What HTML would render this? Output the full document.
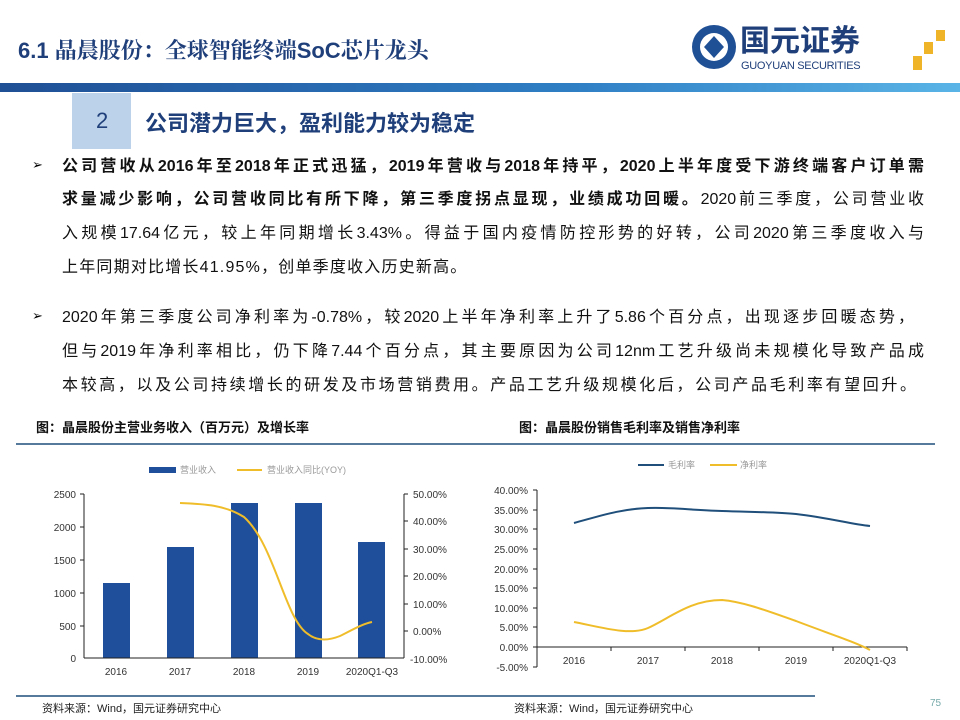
<!DOCTYPE html>
<html><head><meta charset="utf-8"><style>
body{margin:0;width:960px;height:720px;background:#fff;position:relative;overflow:hidden;font-family:"Liberation Sans","Noto Sans CJK SC",sans-serif}
.l{position:absolute;left:62px;width:862px;font-size:16px;color:#111;white-space:nowrap;line-height:20px;text-align:justify;text-align-last:justify;text-justify:inter-character}
.n{text-align-last:left}
.b{position:absolute;left:32px;font-size:13px}
</style></head><body>
<div style="position:absolute;left:18px;top:34px;font-size:22px;font-weight:bold;color:#1f3f7a;font-family:'Liberation Sans','Noto Serif CJK SC',serif">6.1 晶晨股份：全球智能终端SoC芯片龙头</div>
<svg style="position:absolute;left:0;top:0" width="960" height="160">
<defs><linearGradient id="g" x1="0" x2="1"><stop offset="0" stop-color="#1f4f95"/><stop offset="0.6" stop-color="#2f7fc5"/><stop offset="1" stop-color="#5ab4e6"/></linearGradient></defs>
<rect x="0" y="83" width="960" height="9" fill="url(#g)"/>
<rect x="72" y="93" width="59" height="56" fill="#bcd2ea"/>
<circle cx="714" cy="47" r="22" fill="#1f4f95"/><circle cx="714" cy="47" r="14" fill="#fff"/><path d="M714 36 L724 47 L714 58 L704 47Z" fill="#1f4f95"/>
<rect x="936" y="30" width="9" height="11" fill="#f0b429"/><rect x="924" y="42" width="9" height="12" fill="#f0b429"/><rect x="913" y="56" width="9" height="14" fill="#f0b429"/>
</svg>
<div style="position:absolute;left:740px;top:24px;font-size:30px;line-height:36px;font-weight:bold;color:#1f3f7a">国元证券</div>
<div style="position:absolute;left:741px;top:60px;font-size:11px;line-height:12px;color:#1f3f7a;letter-spacing:-0.3px">GUOYUAN SECURITIES</div>
<div style="position:absolute;left:96px;top:108px;font-size:22px;color:#1f3f7a">2</div>
<div style="position:absolute;left:145px;top:106px;font-size:22px;font-weight:bold;color:#1f3f7a">公司潜力巨大，盈利能力较为稳定</div>
<div class="b" style="top:157px">➢</div>
<div class="l" style="top:157px;font-weight:bold">公司营收从2016年至2018年正式迅猛，2019年营收与2018年持平，2020上半年度受下游终端客户订单需</div>
<div class="l" style="top:190px"><b>求量减少影响，公司营收同比有所下降，第三季度拐点显现，业绩成功回暖。</b>2020前三季度，公司营业收</div>
<div class="l" style="top:224px">入规模17.64亿元，较上年同期增长3.43%。得益于国内疫情防控形势的好转，公司2020第三季度收入与</div>
<div class="l n" style="top:258px;letter-spacing:1.2px">上年同期对比增长41.95%，创单季度收入历史新高。</div>
<div class="b" style="top:308px">➢</div>
<div class="l" style="top:308px;width:852px">2020年第三季度公司净利率为-0.78%，较2020上半年净利率上升了5.86个百分点，出现逐步回暖态势，</div>
<div class="l" style="top:342px">但与2019年净利率相比，仍下降7.44个百分点，其主要原因为公司12nm工艺升级尚未规模化导致产品成</div>
<div class="l" style="top:376px;width:854px">本较高，以及公司持续增长的研发及市场营销费用。产品工艺升级规模化后，公司产品毛利率有望回升。</div>
<svg style="position:absolute;left:0;top:410px" width="960" height="310" font-family="Liberation Sans,Noto Sans CJK SC,sans-serif">
<g transform="translate(0,-410)">
<text x="36" y="432" font-size="13" font-weight="bold" fill="#111">图：晶晨股份主营业务收入（百万元）及增长率</text>
<text x="519" y="432" font-size="13" font-weight="bold" fill="#111">图：晶晨股份销售毛利率及销售净利率</text>
<line x1="16" y1="444" x2="480" y2="444" stroke="#1f4f7a" stroke-width="1.5"/>
<line x1="480" y1="444" x2="935" y2="444" stroke="#1f4f7a" stroke-width="1.5"/>
<line x1="16" y1="696" x2="480" y2="696" stroke="#1f4f7a" stroke-width="1.5"/>
<line x1="480" y1="696" x2="815" y2="696" stroke="#1f4f7a" stroke-width="1.5"/>
<text x="42" y="712" font-size="11" fill="#222">资料来源：Wind，国元证券研究中心</text>
<text x="514" y="712" font-size="11" fill="#222">资料来源：Wind，国元证券研究中心</text>
<text x="930" y="706" font-size="10" fill="#7aa">75</text>
<rect x="149" y="467" width="27" height="6" fill="#1f4f9a"/><text x="180" y="473" font-size="9" fill="#999">营业收入</text>
<line x1="237" y1="470" x2="262" y2="470" stroke="#f0bd2a" stroke-width="2"/><text x="267" y="473" font-size="9" fill="#999">营业收入同比(YOY)</text>
<g fill="#1f4f9a"><rect x="103" y="583" width="27" height="75"/><rect x="167" y="547" width="27" height="111"/><rect x="231" y="503" width="27" height="155"/><rect x="295" y="503" width="27" height="155"/><rect x="358" y="542" width="27" height="116"/></g>
<g stroke="#222" stroke-width="1"><line x1="84" y1="494" x2="84" y2="658"/><line x1="84" y1="658" x2="404" y2="658"/><line x1="404" y1="494" x2="404" y2="658"/></g>
<g stroke="#222"><line x1="80" y1="494" x2="84" y2="494"/><line x1="80" y1="527" x2="84" y2="527"/><line x1="80" y1="560" x2="84" y2="560"/><line x1="80" y1="593" x2="84" y2="593"/><line x1="80" y1="626" x2="84" y2="626"/><line x1="404" y1="494" x2="408" y2="494"/><line x1="404" y1="521" x2="408" y2="521"/><line x1="404" y1="549" x2="408" y2="549"/><line x1="404" y1="576" x2="408" y2="576"/><line x1="404" y1="604" x2="408" y2="604"/><line x1="404" y1="631" x2="408" y2="631"/></g>
<g font-size="10" fill="#333" text-anchor="end"><text x="76" y="498">2500</text><text x="76" y="531">2000</text><text x="76" y="564">1500</text><text x="76" y="597">1000</text><text x="76" y="630">500</text><text x="76" y="662">0</text></g>
<g font-size="10" fill="#333"><text x="413" y="498">50.00%</text><text x="413" y="525">40.00%</text><text x="413" y="553">30.00%</text><text x="413" y="580">20.00%</text><text x="413" y="608">10.00%</text><text x="413" y="635">0.00%</text><text x="410" y="663">-10.00%</text></g>
<g font-size="10" fill="#333" text-anchor="middle"><text x="116" y="675">2016</text><text x="180" y="675">2017</text><text x="244" y="675">2018</text><text x="308" y="675">2019</text><text x="372" y="675">2020Q1-Q3</text></g>
<path d="M180 503 C205 504 225 505 244 517 C275 545 285 620 308 634 C318 642 330 640 340 636 C352 630 362 624 372 622" fill="none" stroke="#f0bd2a" stroke-width="2"/>
<line x1="638" y1="465" x2="664" y2="465" stroke="#1f4f7a" stroke-width="2"/><text x="668" y="468" font-size="9" fill="#999">毛利率</text>
<line x1="710" y1="465" x2="737" y2="465" stroke="#f0bd2a" stroke-width="2"/><text x="740" y="468" font-size="9" fill="#999">净利率</text>
<g stroke="#222"><line x1="537" y1="490" x2="537" y2="667"/><line x1="537" y1="647" x2="907" y2="647"/>
<line x1="533" y1="490" x2="537" y2="490"/><line x1="533" y1="510" x2="537" y2="510"/><line x1="533" y1="529" x2="537" y2="529"/><line x1="533" y1="549" x2="537" y2="549"/><line x1="533" y1="569" x2="537" y2="569"/><line x1="533" y1="588" x2="537" y2="588"/><line x1="533" y1="608" x2="537" y2="608"/><line x1="533" y1="627" x2="537" y2="627"/><line x1="533" y1="647" x2="537" y2="647"/><line x1="533" y1="667" x2="537" y2="667"/>
<line x1="611" y1="647" x2="611" y2="651"/><line x1="685" y1="647" x2="685" y2="651"/><line x1="759" y1="647" x2="759" y2="651"/><line x1="833" y1="647" x2="833" y2="651"/><line x1="907" y1="647" x2="907" y2="651"/></g>
<g font-size="10" fill="#333" text-anchor="end"><text x="528" y="494">40.00%</text><text x="528" y="514">35.00%</text><text x="528" y="533">30.00%</text><text x="528" y="553">25.00%</text><text x="528" y="573">20.00%</text><text x="528" y="592">15.00%</text><text x="528" y="612">10.00%</text><text x="528" y="631">5.00%</text><text x="528" y="651">0.00%</text><text x="528" y="671">-5.00%</text></g>
<g font-size="10" fill="#333" text-anchor="middle"><text x="574" y="664">2016</text><text x="648" y="664">2017</text><text x="722" y="664">2018</text><text x="796" y="664">2019</text><text x="870" y="664">2020Q1-Q3</text></g>
<path d="M574 523 C600 516 620 509 648 508 C670 507 690 510 722 511 C750 512 775 512 796 514 C830 518 850 524 870 526" fill="none" stroke="#1f4f7a" stroke-width="2"/>
<path d="M574 622 C600 627 630 636 648 628 C670 618 690 600 722 600 C745 602 770 612 796 621 C830 634 855 642 870 650" fill="none" stroke="#f0bd2a" stroke-width="2"/>
</g></svg>
</body></html>
